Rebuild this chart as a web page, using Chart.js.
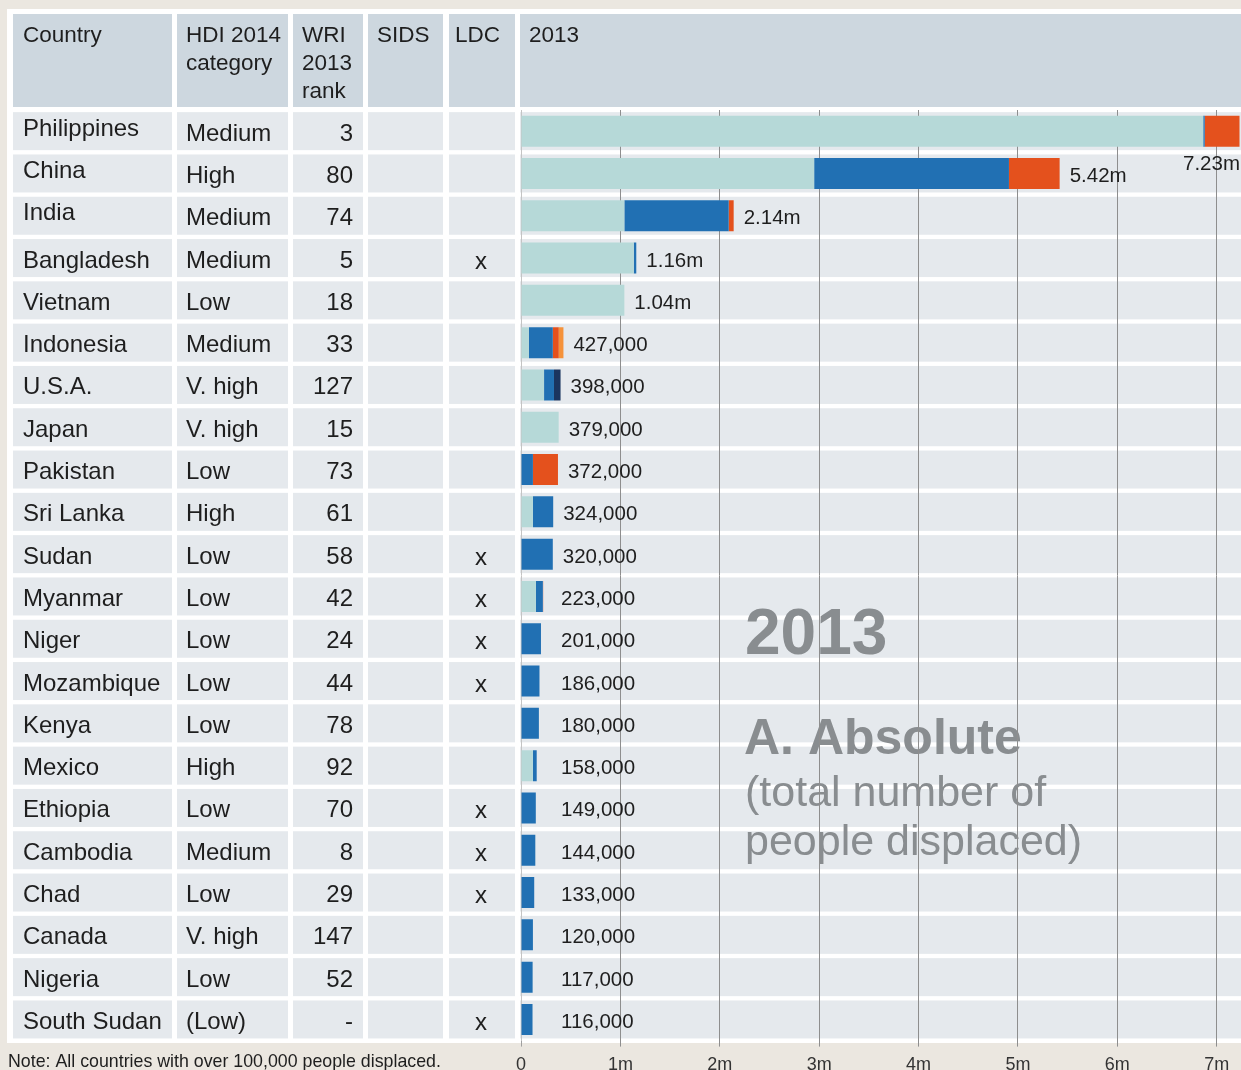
<!DOCTYPE html>
<html>
<head>
<meta charset="utf-8">
<script src="https://cdn.jsdelivr.net/npm/chart.js@4.4.0/dist/chart.umd.min.js"></script>
<style>
html,body{margin:0;padding:0;background:#ebe7e0;}
canvas{display:block;}
</style>
</head>
<body>
<canvas id="c" width="1241" height="1070"></canvas>
<script>
// ---------- DATA ----------
const countries = ["Philippines","China","India","Bangladesh","Vietnam","Indonesia","U.S.A.","Japan","Pakistan","Sri Lanka","Sudan","Myanmar","Niger","Mozambique","Kenya","Mexico","Ethiopia","Cambodia","Chad","Canada","Nigeria","South Sudan"];
const hdiCategory = ["Medium","High","Medium","Medium","Low","Medium","V. high","V. high","Low","High","Low","Low","Low","Low","Low","High","Low","Medium","Low","V. high","Low","(Low)"];
const wriRank = ["3","80","74","5","18","33","127","15","73","61","58","42","24","44","78","92","70","8","29","147","52","-"];
const sidsMark = ["","","","","","","","","","","","","","","","","","","","","",""];
const ldcMark = ["","","","x","","","","","","","x","x","x","x","","","x","x","x","","","x"];

// displaced people, millions, by hazard type
const storms      = [6.865,2.95,1.04,1.135,1.04,0.08,0.232,0.379,0,0.12,0,0.15,0,0,0,0.12,0,0,0,0,0,0];
const floods      = [0.015,1.96,1.05,0.025,0,0.24,0.10,0,0.12,0.204,0.32,0.07,0.201,0.186,0.18,0.038,0.149,0.144,0.133,0.12,0.117,0.116];
const earthquakes = [0.35,0.51,0.05,0,0,0.06,0,0,0.252,0,0,0.003,0,0,0,0,0,0,0,0,0,0];
const volcanic    = [0,0,0,0,0,0.047,0,0,0,0,0,0,0,0,0,0,0,0,0,0,0,0];
const wildfires   = [0,0,0,0,0,0,0.066,0,0,0,0,0,0,0,0,0,0,0,0,0,0,0];

const totalLabels = ["7.23m","5.42m","2.14m","1.16m","1.04m","427,000","398,000","379,000","372,000","324,000","320,000","223,000","201,000","186,000","180,000","158,000","149,000","144,000","133,000","120,000","117,000","116,000"];
const xTickLabels = ["0","1m","2m","3m","4m","5m","6m","7m"];
const headerCountry = ["Country"];
const headerHdi = ["HDI 2014","category"];
const headerWri = ["WRI","2013","rank"];
const headerSids = ["SIDS"];
const headerLdc = ["LDC"];
const headerYear = ["2013"];
const bigYear = "2013";
const bigTitle = "A. Absolute";
const bigSub = ["(total number of","people displaced)"];
const noteText = "Note: All countries with over 100,000 people displaced.";

// ---------- STYLE / LAYOUT ----------
const FONT = '"Liberation Sans", Arial, Helvetica, sans-serif';
const BG = '#ebe7e0';
const HEADER_BG = '#cdd7df';
const ROW_BG = '#e5e9ed';
const TEXT = '#1e1e1e';
const COLS = [[13,172],[177,288],[293,363],[368,443],[449,515],[520,1241]];

const tablePlugin = {
  id: 'tablePlugin',
  beforeDraw(chart) {
    const ctx = chart.ctx;
    const ys = chart.scales.y;
    ctx.save();
    ctx.fillStyle = BG;
    ctx.fillRect(0, 0, chart.width, chart.height);
    ctx.fillStyle = '#ffffff';
    ctx.fillRect(7, 9, chart.width - 7, 1043 - 9);
    ctx.fillStyle = HEADER_BG;
    COLS.forEach(c => ctx.fillRect(c[0], 14, c[1] - c[0], 107 - 14));
    ctx.fillStyle = TEXT;
    ctx.textAlign = 'left';
    ctx.textBaseline = 'alphabetic';
    ctx.font = '22.5px ' + FONT;
    const hdrs = [[headerCountry,23],[headerHdi,186],[headerWri,302],[headerSids,377],[headerLdc,455],[headerYear,529]];
    hdrs.forEach(h => h[0].forEach((line, k) => ctx.fillText(line, h[1], 42 + k * 28)));
    countries.forEach((name, i) => {
      const cy = ys.getPixelForValue(i);
      ctx.fillStyle = ROW_BG;
      COLS.forEach(c => ctx.fillRect(c[0], cy - 19, c[1] - c[0], 38));
    });
    ctx.font = '24px ' + FONT;
    ctx.fillStyle = TEXT;
    countries.forEach((name, i) => {
      const cy = ys.getPixelForValue(i);
      const lift = i < 3 ? 5 : 0;
      ctx.textAlign = 'left';
      ctx.fillText(name, 23, cy + 9.5 - lift);
      ctx.fillText(hdiCategory[i], 186, cy + 9.5);
      ctx.textAlign = 'right';
      ctx.fillText(wriRank[i], 353, cy + 9.5);
      ctx.textAlign = 'center';
      if (sidsMark[i]) ctx.fillText(sidsMark[i], 405, cy + 10.5);
      if (ldcMark[i]) ctx.fillText(ldcMark[i], 481, cy + 10.5);
    });
    ctx.textAlign = 'left';
    ctx.fillStyle = '#898d90';
    ctx.font = 'bold 64px ' + FONT;
    ctx.fillText(bigYear, 745, 654);
    ctx.font = 'bold 50px ' + FONT;
    ctx.fillText(bigTitle, 744, 754);
    ctx.font = '43px ' + FONT;
    ctx.fillText(bigSub[0], 745, 806);
    ctx.fillText(bigSub[1], 745, 855);
    ctx.restore();
  },
  afterDatasetsDraw(chart) {
    const ctx = chart.ctx;
    const xs = chart.scales.x, ys = chart.scales.y;
    const area = chart.chartArea;
    ctx.save();
    ctx.font = '20.5px ' + FONT;
    ctx.fillStyle = TEXT;
    ctx.textBaseline = 'alphabetic';
    countries.forEach((n, i) => {
      const total = storms[i] + floods[i] + earthquakes[i] + volcanic[i] + wildfires[i];
      const xe = xs.getPixelForValue(total);
      const cy = ys.getPixelForValue(i);
      const lbl = totalLabels[i];
      const w = ctx.measureText(lbl).width;
      const lx = Math.max(xe + 10, xs.getPixelForValue(0) + 40);
      if (lx + w > area.right) {
        ctx.textAlign = 'right';
        ctx.fillText(lbl, area.right - 1, cy + 39);
      } else {
        ctx.textAlign = 'left';
        ctx.fillText(lbl, lx, cy + 8.5);
      }
    });
    ctx.restore();
  },
  afterDraw(chart) {
    const ctx = chart.ctx;
    ctx.save();
    ctx.font = '17.8px ' + FONT;
    ctx.fillStyle = TEXT;
    ctx.textAlign = 'left';
    ctx.textBaseline = 'alphabetic';
    ctx.fillText(noteText, 8, 1067);
    ctx.restore();
  }
};

const mk = (label, data, color) => ({label, data, backgroundColor: color, borderWidth: 0, borderSkipped: false});

new Chart(document.getElementById('c'), {
  type: 'bar',
  data: {
    labels: countries,
    datasets: [
      mk('Storms', storms, '#b6d9d8'),
      mk('Floods', floods, '#2170b3'),
      mk('Earthquakes', earthquakes, '#e4511d'),
      mk('Volcanic eruptions', volcanic, '#f5923a'),
      mk('Wildfires', wildfires, '#1b3560')
    ]
  },
  options: {
    indexAxis: 'y',
    responsive: false,
    animation: false,
    devicePixelRatio: 1,
    layout: {padding: {left: 521, right: 0, top: 110, bottom: 0}},
    datasets: {bar: {categoryPercentage: 1, barPercentage: 0.733}},
    plugins: {legend: {display: false}, tooltip: {enabled: false}, title: {display: false}},
    scales: {
      x: {
        type: 'linear',
        stacked: true,
        min: 0,
        max: 7.245,
        position: 'bottom',
        afterFit: s => { s.height = 29.4; },
        border: {display: false},
        grid: {
          color: ctx => (ctx.tick && ctx.tick.value === 0) ? '#c4c4c4' : '#8e8e8e',
          lineWidth: 1,
          drawTicks: true,
          tickLength: 6,
          tickColor: ctx => (ctx.tick && ctx.tick.value === 0) ? '#a0a0a0' : '#8e8e8e'
        },
        ticks: {
          stepSize: 1,
          includeBounds: false,
          padding: 8,
          maxRotation: 0,
          autoSkip: false,
          color: '#333333',
          font: {family: FONT, size: 18},
          callback: v => Number.isInteger(v) ? xTickLabels[v] : ''
        }
      },
      y: {
        type: 'category',
        stacked: true,
        display: false,
        grid: {display: false}
      }
    }
  },
  plugins: [tablePlugin]
});
</script>
</body>
</html>
